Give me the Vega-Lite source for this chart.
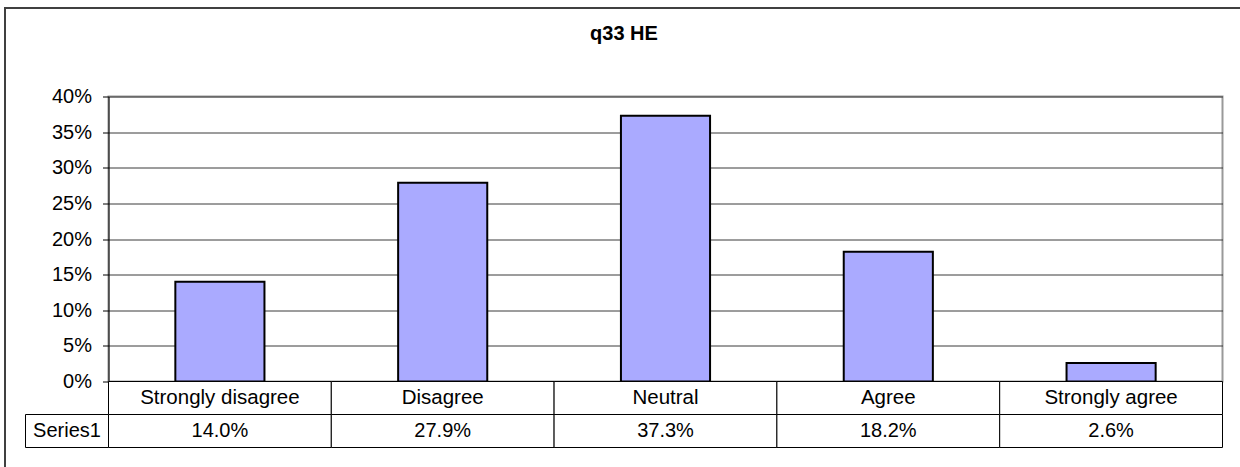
{
  "$schema": "https://vega.github.io/schema/vega-lite/v6.json",
  "background": "white",
  "padding": {"left": 4.5, "top": 7.5, "right": 0, "bottom": 0},
  "config": {"font": "Liberation Sans", "view": {"stroke": null}},
  "datasets": {
    "responses": [
      {"category": "Strongly disagree", "value": 0.140},
      {"category": "Disagree", "value": 0.279},
      {"category": "Neutral", "value": 0.373},
      {"category": "Agree", "value": 0.182},
      {"category": "Strongly agree", "value": 0.026}
    ],
    "series": [{"label": "Series1"}],
    "blank": [{}]
  },
  "columns": 3,
  "spacing": 0,
  "bounds": "flush",
  "align": "each",
  "concat": [
    {
      "width": 21, "height": 89,
      "data": {"name": "blank"},
      "mark": {"type": "point", "size": 0, "opacity": 0},
      "encoding": {
        "x": {"datum": 0, "type": "quantitative", "axis": {"orient": "top", "domain": true, "domainColor": "#404040", "domainWidth": 2, "domainCap": "square", "ticks": false, "labels": false, "grid": false, "title": null}},
        "y": {"datum": 0, "type": "quantitative", "axis": {"orient": "left", "domain": true, "domainColor": "#404040", "domainWidth": 2, "domainCap": "square", "ticks": false, "labels": false, "grid": false, "title": null}}
      }
    },
    {
      "width": 83, "height": 89,
      "data": {"name": "blank"},
      "mark": {"type": "point", "size": 0, "opacity": 0},
      "encoding": {
        "x": {"datum": 0, "type": "quantitative", "axis": {"orient": "top", "domain": true, "domainColor": "#404040", "domainWidth": 2, "ticks": false, "labels": false, "grid": false, "title": null}}
      }
    },
    {
      "width": 1131, "height": 89,
      "data": {"name": "blank"},
      "mark": {"type": "point", "size": 0, "opacity": 0},
      "encoding": {
        "x": {"datum": 0, "type": "quantitative", "axis": {"orient": "top", "domain": true, "domainColor": "#404040", "domainWidth": 2, "ticks": false, "labels": false, "grid": false, "title": null}}
      }
    },
    {
      "width": 21, "height": 285,
      "data": {"name": "blank"},
      "mark": {"type": "point", "size": 0, "opacity": 0},
      "encoding": {
        "y": {"datum": 0, "type": "quantitative", "axis": {"orient": "left", "domain": true, "domainColor": "#404040", "domainWidth": 2, "ticks": false, "labels": false, "grid": false, "title": null}}
      }
    },
    {
      "width": 83, "height": 285,
      "data": {"name": "blank"},
      "mark": {"type": "point", "size": 0, "opacity": 0},
      "encoding": {}
    },
    {
      "width": 1114, "height": 285,
      "view": {"stroke": "#999999", "strokeWidth": 2},
      "title": {"text": "q33 HE", "fontSize": 20, "fontWeight": "bold", "color": "black", "anchor": "middle", "frame": "bounds", "offset": 43},
      "data": {"name": "responses"},
      "mark": {"type": "bar", "fill": "#AAAAFF", "stroke": "black", "strokeWidth": 2, "width": {"band": 0.4}},
      "encoding": {
        "x": {"field": "category", "type": "nominal", "sort": null, "scale": {"paddingInner": 0, "paddingOuter": 0}, "axis": null},
        "y": {
          "field": "value", "type": "quantitative",
          "scale": {"domain": [0, 0.4], "nice": false},
          "axis": {
            "values": [0, 0.05, 0.1, 0.15, 0.2, 0.25, 0.3, 0.35, 0.4],
            "format": ".0%", "grid": true, "gridColor": "#3a3a3a", "gridWidth": 1,
            "domainColor": "black", "tickColor": "black", "tickSize": 6,
            "labelPadding": 11, "labelFontSize": 20, "labelColor": "black",
            "title": null, "minExtent": 83, "maxExtent": 83
          }
        }
      }
    },
    {
      "width": 21, "height": 85,
      "data": {"name": "blank"},
      "mark": {"type": "point", "size": 0, "opacity": 0},
      "encoding": {
        "y": {"datum": 0, "type": "quantitative", "axis": {"orient": "left", "domain": true, "domainColor": "#404040", "domainWidth": 2, "ticks": false, "labels": false, "grid": false, "title": null}}
      }
    },
    {
      "width": 83, "height": 66,
      "data": {"name": "series"},
      "layer": [
        {
          "mark": {"type": "rect", "fill": "white", "stroke": "black", "strokeWidth": 1},
          "encoding": {"y": {"datum": "val", "type": "nominal", "scale": {"domain": ["cat", "val"], "paddingInner": 0, "paddingOuter": 0}, "axis": null}}
        },
        {
          "mark": {"type": "text", "fontSize": 20, "fill": "black"},
          "encoding": {"y": {"datum": "val", "type": "nominal"}, "text": {"field": "label"}}
        }
      ]
    },
    {
      "width": 1114, "height": 66,
      "data": {"name": "responses"},
      "encoding": {"x": {"field": "category", "type": "nominal", "sort": null, "scale": {"paddingInner": 0, "paddingOuter": 0}, "axis": null}},
      "layer": [
        {
          "mark": {"type": "rect", "fill": "white", "stroke": "black", "strokeWidth": 1},
          "encoding": {"y": {"datum": "cat", "type": "nominal", "scale": {"domain": ["cat", "val"], "paddingInner": 0, "paddingOuter": 0}, "axis": null}}
        },
        {
          "mark": {"type": "rect", "fill": "white", "stroke": "black", "strokeWidth": 1},
          "encoding": {"y": {"datum": "val", "type": "nominal"}}
        },
        {
          "mark": {"type": "text", "fontSize": 20.5, "fill": "black"},
          "encoding": {"y": {"datum": "cat", "type": "nominal"}, "text": {"field": "category"}}
        },
        {
          "mark": {"type": "text", "fontSize": 20, "fill": "black"},
          "encoding": {"y": {"datum": "val", "type": "nominal"}, "text": {"field": "value", "format": ".1%"}}
        }
      ]
    }
  ]
}
